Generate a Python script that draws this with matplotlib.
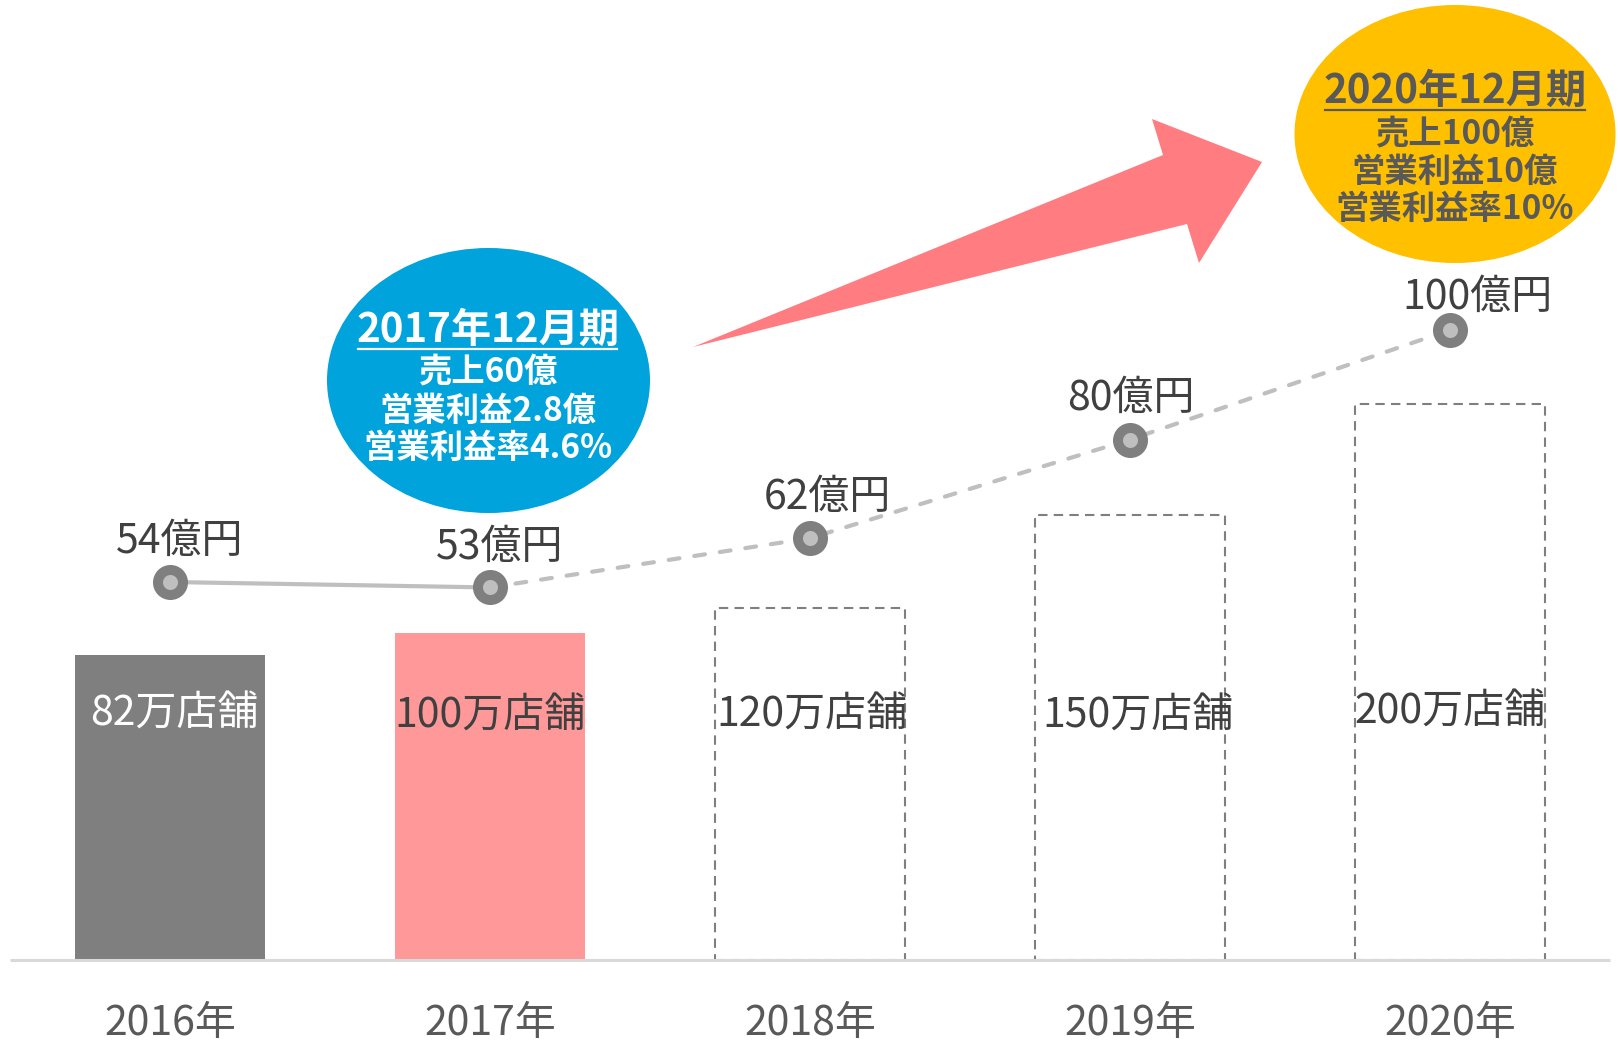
import matplotlib
matplotlib.use("Agg")
import matplotlib.pyplot as plt
from matplotlib.patches import Ellipse, Polygon
from matplotlib.lines import Line2D

plt.rcParams['font.family'] = ['Noto Sans CJK JP', 'DejaVu Sans']

# ---------------- data ----------------
years = ["2016年", "2017年", "2018年", "2019年", "2020年"]
sales = [54, 53, 62, 80, 100]                      # 億円
sales_labels = ["54億円", "53億円", "62億円", "80億円", "100億円"]
stores = [82, 100, 120, 150, 200]                   # 万店舗
store_labels = ["82万店舗", "100万店舗", "120万店舗", "150万店舗", "200万店舗"]
# bar heights as drawn in the picture (not to scale with store counts)
bar_heights = [305, 327, 352, 445, 556]
actual = [True, True, False, False, False]

blue_title = "2017年12月期"
blue_lines = ["売上60億", "営業利益2.8億", "営業利益率4.6%"]
gold_title = "2020年12月期"
gold_lines = ["売上100億", "営業利益10億", "営業利益率10%"]

# ---------------- figure ----------------
W, H = 1618, 1042
fig = plt.figure(figsize=(W / 100, H / 100), dpi=100)
fig.patch.set_facecolor("white")

x = list(range(len(years)))
xlim = (-170 / 320, (W - 170) / 320)

# bar axis (units ~ picture pixels above baseline)
axb = fig.add_axes([0, 0, 1, 1])
axb.set_xlim(*xlim)
axb.set_ylim(-82, H - 82)
axb.axis("off")

bar_w = 190 / 320
fill_colors = ["#7f7f7f", "#ff9999"]
for i, (h, real) in enumerate(zip(bar_heights, actual)):
    if real:
        axb.bar(i, h, width=bar_w, color=fill_colors[i], zorder=2)
    else:
        axb.bar(i, h, width=bar_w, facecolor="none", edgecolor="#7f7f7f",
                linewidth=1.5, linestyle=(0, (4.5, 3)), zorder=2)

axb.plot([-160 / 320, (1610 - 170) / 320], [0, 0], color="#d9d9d9",
         lw=2.2, zorder=3, solid_capstyle="butt")

label_dx = [4, 0, 2, 8, 0]
label_y = [246, 244, 245, 244, 248]
for i, lab in enumerate(store_labels):
    axb.text(i + label_dx[i] / 320, label_y[i], lab, ha="center", va="center",
             fontsize=29.5, color="white" if i == 0 else "#404040", zorder=5)

for i, lab in enumerate(years):
    axb.text(i, -64, lab, ha="center", va="center", fontsize=29.5,
             color="#595959", zorder=5)

# line axis
axl = fig.add_axes([0, 0, 1, 1])
axl.set_xlim(*xlim)
axl.set_ylim(-164.2 / 5.478, (H - 164.2) / 5.478)
axl.axis("off")
axl.patch.set_visible(False)

axl.plot(x[:2], sales[:2], color="#bfbfbf", lw=3, zorder=3,
         solid_capstyle="round")
axl.plot(x[1:], sales[1:], color="#bfbfbf", lw=3, zorder=3,
         linestyle=(0, (2.6, 3.6)), dash_capstyle="round")
axl.plot(x, sales, linestyle="none", marker="o", markersize=18,
         markerfacecolor="#bfbfbf", markeredgecolor="#7f7f7f",
         markeredgewidth=7.2, zorder=4)

val_dx = [10, 10, 17, 1, 27]
val_dy = [41, 40, 41, 41, 33]
for i, lab in enumerate(sales_labels):
    axl.annotate(lab, (x[i], sales[i]), xytext=(val_dx[i], val_dy[i]),
                 textcoords="offset pixels", ha="center", va="center",
                 fontsize=29.5, color="#404040", zorder=5)

# annotation layer (picture pixel coordinates, origin top-left)
axa = fig.add_axes([0, 0, 1, 1])
axa.set_xlim(0, W)
axa.set_ylim(H, 0)
axa.axis("off")
axa.patch.set_visible(False)

arrow_pts = [(693, 347), (1163, 155), (1152, 119), (1262, 162),
             (1199, 263), (1187, 224)]
axa.add_patch(Polygon(arrow_pts, closed=True, facecolor="#ff7c80",
                      edgecolor="none", zorder=2))

axa.add_patch(Ellipse((488.5, 380.5), 323, 265, facecolor="#00a3dc",
                      edgecolor="none", zorder=3))
axa.add_patch(Ellipse((1455, 134), 321, 258, facecolor="#ffc000",
                      edgecolor="none", zorder=3))


def bubble(cx, title_y, title, lines, line_ys, color):
    t = axa.text(cx, title_y, title, ha="center", va="center", fontsize=29,
                 fontweight="bold", color=color, zorder=5)
    for ly, s in zip(line_ys, lines):
        axa.text(cx, ly, s, ha="center", va="center", fontsize=24,
                 fontweight="bold", color=color, zorder=5)
    return t


tb = bubble(488, 330, blue_title, blue_lines, [372, 411, 448], "white")
tg = bubble(1455, 91, gold_title, gold_lines, [134, 172, 209], "#595959")

fig.canvas.draw()
r = fig.canvas.get_renderer()
for t, uy, col in [(tb, 349, "white"), (tg, 110, "#595959")]:
    bb = t.get_window_extent(renderer=r)
    axa.add_line(Line2D([bb.x0 + 2, bb.x1 - 2], [uy, uy], color=col, lw=1.6,
                        zorder=5))

fig.savefig("out.png", dpi=100, facecolor="white")
